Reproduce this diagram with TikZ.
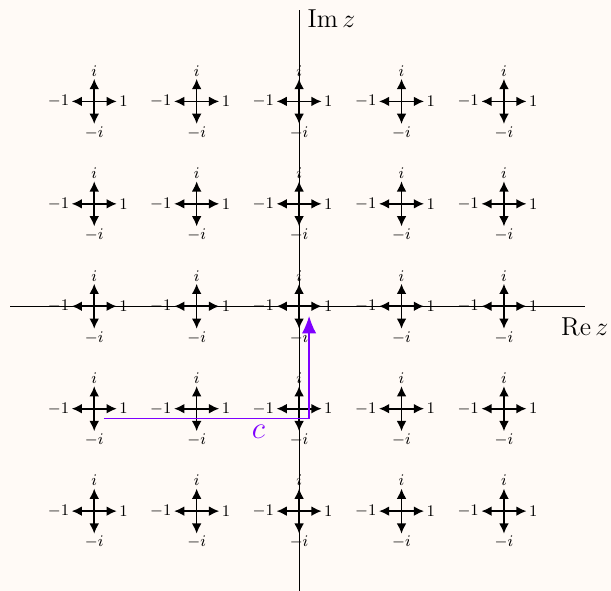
\documentclass[tikz,border=0pt]{standalone}
\usetikzlibrary{arrows.meta}
\definecolor{bgcol}{RGB}{255,250,246}
\definecolor{pathcol}{RGB}{127,0,255}
\begin{document}
\begin{tikzpicture}[
  crossarrow/.style={line width=0.9pt,-{Latex[length=2mm,width=1.9mm]}},
  lbl/.style={font=\fontsize{9}{11}\selectfont,inner sep=1pt},
  biglbl/.style={font=\fontsize{15.5}{18}\selectfont,inner sep=0pt},
  axis/.style={line width=0.6pt},
  contour/.style={pathcol,line width=0.7pt,-{Latex[length=3.4mm,width=2.8mm]}}
]
\fill[bgcol] (-5.84,-5.55) rectangle (6.09,5.98);
\useasboundingbox (-5.84,-5.55) rectangle (6.09,5.98);
% axes
\coordinate (xl) at (-5.64,0);
\coordinate (xr) at (5.59,0);
\coordinate (yb) at (0,-5.55);
\coordinate (yt) at (0,5.78);
\draw[axis] (xl) -- (xr);
\draw[axis] (yb) -- (yt);
\node[biglbl,anchor=base west] (imlab) at (0.16,5.45) {$\mathrm{Im}\,z$};
\node[biglbl,anchor=base west] (relab) at (5.11,-0.57) {$\mathrm{Re}\,z$};
% crosses
\foreach \i in {-2,...,2}{
  \foreach \j in {-2,...,2}{
    \coordinate (p\i\j) at (2*\i,2*\j);
    \draw[crossarrow] (p\i\j) -- ++(0.44,0) node[lbl,right] {$1$};
    \draw[crossarrow] (p\i\j) -- ++(-0.44,0) node[lbl,left] {$-1$};
    \draw[crossarrow] (p\i\j) -- ++(0,0.44) node[lbl,above] {$i$};
    \draw[crossarrow] (p\i\j) -- ++(0,-0.44) node[lbl,below] {$-i$};
  }
}
% contour
\coordinate (cs) at (-3.81,-2.19);
\coordinate (cm) at (0.195,-2.19);
\coordinate (ce) at (0.195,-0.19);
\draw[contour] (cs) -- (cm) -- (ce);
\node[pathcol,font=\fontsize{16}{18}\selectfont,inner sep=0pt,anchor=base] (clab) at (-0.795,-2.58) {$c$};
\end{tikzpicture}
\end{document}
